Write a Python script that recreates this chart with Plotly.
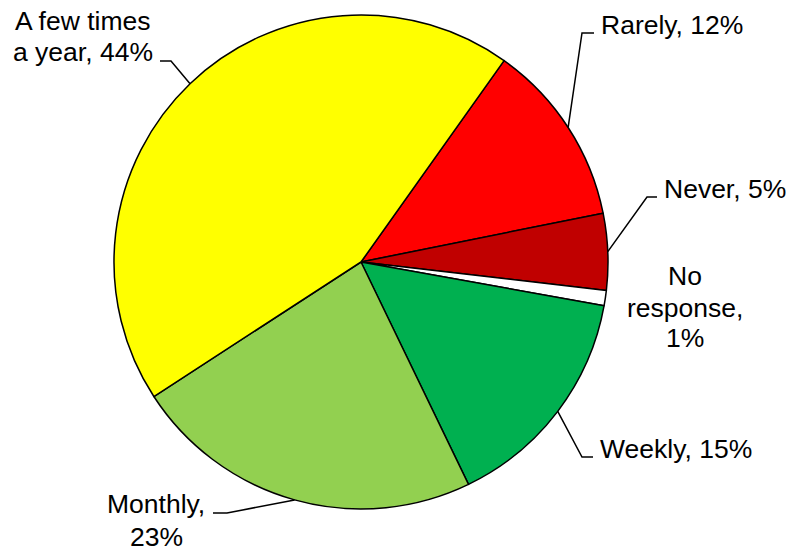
import numpy as np
import plotly.graph_objects as go

# ---- data ----
categories = ["Rarely", "Never", "No response", "Weekly", "Monthly", "A few times a year"]
values = [12, 5, 1, 15, 23, 44]
colors = ["#FF0000", "#C00000", "#FFFFFF", "#00B050", "#92D050", "#FFFF00"]
label_lines = [
    ["Rarely, 12%"],
    ["Never, 5%"],
    ["No", "response,", "1%"],
    ["Weekly, 15%"],
    ["Monthly,", "23%"],
    ["A few times", "a year, 44%"],
]

# ---- layout constants (pixels) ----
W, H = 792, 549
CX, CY, R = 361, 262, 247
ROTATION = 35.4
FONT = dict(family="Liberation Sans, Arial, sans-serif", size=26.5, color="#000000")

# label placement: (x, anchor, [y per line])
label_pos = [
    (600, "left", [25]),
    (663, "left", [188.5]),
    (685, "center", [276, 307.5, 338]),
    (599, "left", [448.5]),
    (156, "center", [504, 536.5]),
    (83, "center", [21, 52]),
]
# leader elbows: (elbow point, end point) ; None for no leader
leaders = [
    ((582, 33), (594, 33)),
    ((647, 197), (657, 197)),
    None,
    ((582, 457), (593, 457)),
    ((227, 513), (213, 513)),
    ((171, 61), (160, 61)),
]

def px(x):
    return x / W

def py(y):
    return 1 - y / H

fig = go.Figure(go.Pie(
    labels=categories,
    values=values,
    sort=False,
    direction="clockwise",
    rotation=ROTATION,
    marker=dict(colors=colors, line=dict(color="#000000", width=1.5)),
    textinfo="none",
    hoverinfo="label+percent",
    showlegend=False,
    domain=dict(x=[px(CX - R), px(CX + R)], y=[py(CY + R), py(CY - R)]),
))

annotations = []
for lines, (x, anchor, ys) in zip(label_lines, label_pos):
    for text, y in zip(lines, ys):
        annotations.append(dict(
            x=px(x), y=py(y), xref="paper", yref="paper",
            text=text, showarrow=False, xanchor=anchor, yanchor="middle",
            borderpad=0, font=FONT,
        ))

shapes = []
total = sum(values)
cum = 0
for v, ld in zip(values, leaders):
    mid = ROTATION + (cum + v / 2) / total * 360
    cum += v
    if ld is None:
        continue
    a = np.deg2rad(mid)
    sx = CX + R * np.sin(a)
    sy = CY - R * np.cos(a)
    (ex, ey), (tx, ty) = ld
    path = f"M {px(sx)} {py(sy)} L {px(ex)} {py(ey)} L {px(tx)} {py(ty)}"
    shapes.append(dict(type="path", xref="paper", yref="paper", path=path,
                       line=dict(color="#000000", width=1.5)))

fig.update_layout(
    width=W, height=H,
    margin=dict(l=0, r=0, t=0, b=0),
    paper_bgcolor="#FFFFFF",
    plot_bgcolor="#FFFFFF",
    annotations=annotations,
    shapes=shapes,
)

fig.write_html(
    "out.html",
    config={"displayModeBar": False},
    post_script="document.body.style.margin='0';document.body.style.overflow='hidden';",
)
